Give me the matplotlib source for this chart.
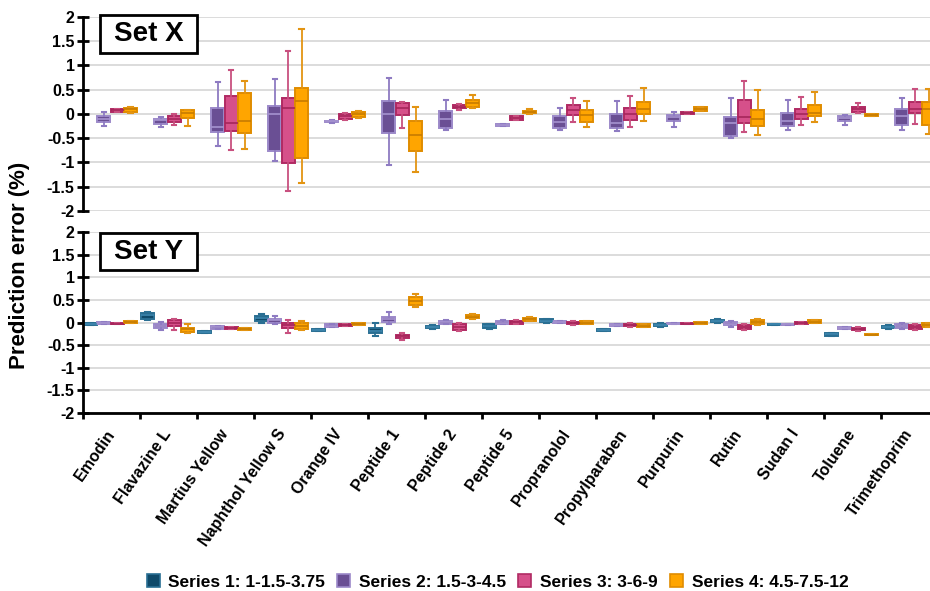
import matplotlib
matplotlib.use("Agg")
import matplotlib.pyplot as plt
from matplotlib.patches import Rectangle, Patch
import numpy as np

plt.rcParams['font.family'] = ['Liberation Sans', 'DejaVu Sans']
plt.rcParams['font.weight'] = 'bold'

compounds = ["Emodin", "Flavazine L", "Martius Yellow", "Naphthol Yellow S", "Orange IV",
             "Peptide 1", "Peptide 2", "Peptide 5", "Propranolol", "Propylparaben",
             "Purpurin", "Rutin", "Sudan I", "Toluene", "Trimethoprim"]

series_names = ["Series 1: 1-1.5-3.75", "Series 2: 1.5-3-4.5",
                "Series 3: 3-6-9", "Series 4: 4.5-7.5-12"]

# five-number summaries per compound: (whisker low, Q1, median, Q3, whisker high)
set_x_s2 = [(-0.24, -0.17, -0.10, -0.05, 0.04), (-0.27, -0.20, -0.13, -0.10, -0.07),
            (-0.67, -0.38, -0.27, 0.13, 0.67), (-0.96, -0.76, 0.01, 0.17, 0.73),
            (-0.18, -0.17, -0.15, -0.14, -0.13), (-1.06, -0.40, 0.01, 0.27, 0.74),
            (-0.33, -0.29, -0.10, 0.07, 0.29), (-0.25, -0.24, -0.22, -0.21, -0.20),
            (-0.32, -0.28, -0.16, -0.04, 0.12), (-0.35, -0.28, -0.18, -0.01, 0.27),
            (-0.26, -0.14, -0.07, -0.02, 0.04), (-0.49, -0.45, -0.19, -0.06, 0.33),
            (-0.33, -0.24, -0.14, 0.02, 0.29), (-0.23, -0.14, -0.09, -0.05, -0.03),
            (-0.32, -0.23, -0.05, 0.11, 0.32)]
set_x_s3 = [(0.05, 0.05, 0.08, 0.10, 0.10), (-0.23, -0.16, -0.10, -0.04, -0.01),
            (-0.74, -0.36, -0.19, 0.37, 0.91), (-1.58, -1.02, 0.12, 0.32, 1.29),
            (-0.12, -0.10, -0.05, 0.00, 0.02), (-0.28, -0.03, 0.12, 0.23, 0.25),
            (0.08, 0.12, 0.15, 0.18, 0.20), (-0.13, -0.12, -0.09, -0.05, -0.05),
            (-0.16, -0.03, 0.08, 0.19, 0.32), (-0.27, -0.12, -0.01, 0.12, 0.38),
            (-0.01, 0.00, 0.02, 0.04, 0.05), (-0.38, -0.19, -0.07, 0.28, 0.69),
            (-0.23, -0.10, -0.01, 0.10, 0.36), (0.03, 0.05, 0.10, 0.14, 0.23),
            (-0.21, 0.03, 0.10, 0.24, 0.51)]
set_x_s4 = [(0.03, 0.05, 0.10, 0.12, 0.14), (-0.24, -0.09, 0.02, 0.08, 0.09),
            (-0.72, -0.39, -0.14, 0.43, 0.68), (-1.42, -0.91, 0.27, 0.54, 1.75),
            (-0.09, -0.07, -0.01, 0.04, 0.06), (-1.20, -0.76, -0.43, -0.14, 0.14),
            (0.12, 0.14, 0.22, 0.29, 0.40), (-0.01, 0.03, 0.05, 0.06, 0.10),
            (-0.26, -0.16, -0.03, 0.08, 0.26), (-0.14, -0.01, 0.10, 0.25, 0.54),
            (0.06, 0.06, 0.10, 0.14, 0.14), (-0.44, -0.25, -0.10, 0.08, 0.49),
            (-0.16, -0.05, 0.03, 0.18, 0.46), (-0.04, -0.04, -0.02, 0.01, 0.01),
            (-0.42, -0.23, 0.10, 0.24, 0.51)]

set_y_s1 = [(-0.05, -0.05, -0.03, -0.01, -0.01), (0.06, 0.09, 0.16, 0.21, 0.23),
            (-0.24, -0.24, -0.21, -0.19, -0.19), (-0.01, 0.04, 0.10, 0.15, 0.19),
            (-0.19, -0.19, -0.16, -0.13, -0.13), (-0.29, -0.24, -0.18, -0.12, 0.00),
            (-0.14, -0.12, -0.09, -0.07, -0.05), (-0.14, -0.12, -0.08, -0.04, -0.03),
            (0.00, 0.01, 0.04, 0.07, 0.09), (-0.18, -0.18, -0.16, -0.15, -0.15),
            (-0.10, -0.08, -0.06, -0.04, -0.01), (0.00, 0.01, 0.04, 0.06, 0.07),
            (-0.06, -0.06, -0.04, -0.03, -0.03), (-0.30, -0.29, -0.26, -0.24, -0.22),
            (-0.13, -0.12, -0.10, -0.07, -0.06)]
set_y_s2 = [(-0.02, -0.02, 0.00, 0.01, 0.01), (-0.17, -0.11, -0.07, -0.03, 0.01),
            (-0.13, -0.13, -0.10, -0.08, -0.08), (-0.03, -0.01, 0.05, 0.09, 0.15),
            (-0.10, -0.10, -0.07, -0.04, -0.04), (-0.04, 0.01, 0.07, 0.13, 0.23),
            (-0.04, -0.02, 0.01, 0.04, 0.06), (-0.04, -0.03, 0.00, 0.03, 0.06),
            (-0.01, -0.01, 0.02, 0.04, 0.04), (-0.07, -0.07, -0.05, -0.04, -0.04),
            (-0.04, -0.04, -0.02, 0.00, 0.00), (-0.10, -0.06, -0.02, 0.01, 0.03),
            (-0.06, -0.06, -0.04, -0.02, -0.02), (-0.13, -0.13, -0.11, -0.10, -0.10),
            (-0.15, -0.12, -0.08, -0.03, 0.00)]
set_y_s3 = [(-0.04, -0.04, -0.02, 0.00, 0.00), (-0.16, -0.07, 0.00, 0.05, 0.07),
            (-0.13, -0.13, -0.11, -0.10, -0.10), (-0.24, -0.12, -0.05, -0.01, 0.06),
            (-0.08, -0.08, -0.06, -0.04, -0.04), (-0.39, -0.34, -0.30, -0.27, -0.22),
            (-0.19, -0.16, -0.10, -0.04, -0.01), (-0.04, -0.02, 0.01, 0.04, 0.05),
            (-0.06, -0.04, -0.01, 0.01, 0.03), (-0.09, -0.08, -0.05, -0.03, -0.01),
            (-0.04, -0.04, -0.03, -0.01, -0.01), (-0.16, -0.15, -0.10, -0.06, -0.04),
            (-0.03, -0.03, 0.00, 0.02, 0.02), (-0.18, -0.16, -0.13, -0.11, -0.09),
            (-0.16, -0.13, -0.09, -0.05, -0.03)]
set_y_s4 = [(0.00, 0.00, 0.02, 0.04, 0.04), (-0.24, -0.21, -0.15, -0.11, -0.04),
            (-0.16, -0.16, -0.13, -0.11, -0.11), (-0.17, -0.14, -0.07, -0.01, 0.03),
            (-0.05, -0.05, -0.03, -0.01, -0.01), (0.35, 0.39, 0.48, 0.56, 0.64),
            (0.07, 0.10, 0.13, 0.16, 0.19), (0.03, 0.04, 0.08, 0.11, 0.12),
            (-0.03, -0.03, 0.00, 0.03, 0.03), (-0.09, -0.09, -0.07, -0.04, -0.04),
            (-0.03, -0.03, 0.00, 0.02, 0.02), (-0.05, -0.03, 0.01, 0.06, 0.08),
            (0.00, 0.00, 0.02, 0.05, 0.05), (-0.28, -0.28, -0.27, -0.25, -0.25),
            (-0.09, -0.09, -0.05, -0.01, 0.00)]

# per-series styling: fill, box edge, median, whisker
styles = [
    dict(fill="#0f4a6a", edge="#2a6f93", median="#3f88b0", whisker="#2a6f93"),
    dict(fill="#6a4f94", edge="#9c89c9", median="#a593d0", whisker="#8e7bc2"),
    dict(fill="#d6508a", edge="#b02a63", median="#a5255a", whisker="#c8507f"),
    dict(fill="#ffa500", edge="#e08c00", median="#c77c00", whisker="#e39412"),
]
offsets = [-0.37, -0.135, 0.10, 0.335]
box_w = 0.225


def draw_series(ax, summaries, k):
    st = styles[k]
    stats = [dict(whislo=s[0], q1=s[1], med=s[2], q3=s[3], whishi=s[4], fliers=[])
             for s in summaries]
    pos = np.arange(len(summaries)) + offsets[k]
    ax.bxp(stats, positions=pos, widths=box_w, patch_artist=True, showfliers=False,
           manage_ticks=False, capwidths=0.08,
           boxprops=dict(facecolor=st["fill"], edgecolor=st["edge"], linewidth=1.4),
           medianprops=dict(color=st["median"], linewidth=1.2),
           whiskerprops=dict(color=st["whisker"], linewidth=1.3),
           capprops=dict(color=st["whisker"], linewidth=1.5))


W, H = 930, 591
fig = plt.figure(figsize=(W / 100, H / 100), dpi=100)

left = 83 / W
width = 855 / W
ax_top = fig.add_axes([left, 1 - 211 / H, width, (211 - 17) / H])
ax_bot = fig.add_axes([left, 1 - 413 / H, width, (413 - 232.3) / H])

for ax in (ax_top, ax_bot):
    ax.set_xlim(-0.5, len(compounds) - 0.5)
    ax.set_ylim(-2, 2)
    ax.set_yticks(np.arange(-2, 2.01, 0.5))
    ax.set_yticklabels([f"{v:g}" for v in np.arange(-2, 2.01, 0.5)])
    ax.yaxis.grid(True, color="#d9d9d9", linewidth=1.3)
    ax.set_axisbelow(True)
    for side in ("top", "right"):
        ax.spines[side].set_visible(False)
    ax.spines["left"].set_linewidth(2)
    ax.tick_params(axis="y", direction="inout", length=8, width=2, pad=2, labelsize=11.5)
    for lab in ax.get_yticklabels():
        lab.set_fontweight("bold")

# top panel: only series 2-4
draw_series(ax_top, set_x_s2, 1)
draw_series(ax_top, set_x_s3, 2)
draw_series(ax_top, set_x_s4, 3)
ax_top.spines["bottom"].set_visible(False)
ax_top.set_xticks([])

# bottom panel: all four series
draw_series(ax_bot, set_y_s1, 0)
draw_series(ax_bot, set_y_s2, 1)
draw_series(ax_bot, set_y_s3, 2)
draw_series(ax_bot, set_y_s4, 3)
ax_bot.spines["bottom"].set_linewidth(2)
ax_bot.set_xticks(np.arange(len(compounds)))
ax_bot.set_xticklabels(compounds, rotation=55, ha="right", va="center",
                       rotation_mode="anchor", fontsize=11.5, fontweight="bold")
ax_bot.tick_params(axis="x", which="major", length=0, pad=13)
ax_bot.set_xticks(np.arange(-0.5, len(compounds)), minor=True)
ax_bot.tick_params(axis="x", which="minor", direction="out", length=4, width=2)

# panel title boxes
for (y0, y1, label) in [(15, 53, "Set X"), (233, 270, "Set Y")]:
    fig.patches.append(Rectangle((100 / W, 1 - y1 / H), 97 / W, (y1 - y0) / H,
                                 transform=fig.transFigure, facecolor="white",
                                 edgecolor="black", linewidth=2, zorder=5))
    fig.text(148.5 / W, 1 - (y0 + y1) / 2 / H, label, ha="center", va="center",
             fontsize=20, fontweight="bold", zorder=6)

fig.text(20 / W, 1 - 265 / H, "Prediction error (%)", rotation=90, ha="center",
         va="center", fontsize=16, fontweight="bold")

handles = [Patch(facecolor=st["fill"], edgecolor=st["edge"], linewidth=1.2) for st in styles]
fig.legend(handles, series_names, loc="center", bbox_to_anchor=(0.535, 1 - 582 / H),
           ncol=4, frameon=False, handlelength=0.75, handleheight=0.75,
           handletextpad=0.5, columnspacing=0.7,
           prop=dict(size=12.5, weight="bold"))

fig.savefig("out.png", dpi=100)
